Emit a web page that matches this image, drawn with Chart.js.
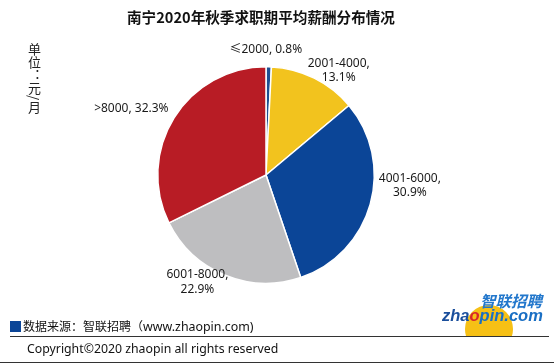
<!DOCTYPE html>
<html><head><meta charset="utf-8">
<script src="https://cdn.jsdelivr.net/npm/chart.js@4.4.1/dist/chart.umd.min.js"></script>
<style>
html,body{margin:0;padding:0;background:#fff;}
#wrap{position:relative;width:554px;height:364px;overflow:hidden;font-family:"Noto Sans CJK SC","Noto Sans",sans-serif;color:#111;}
#c{position:absolute;left:0;top:0;}
.abs{position:absolute;white-space:nowrap;}
#title{left:0;width:522px;top:7px;text-align:center;font-size:14.6px;font-weight:bold;color:#111;line-height:20px;}
#unit{left:27px;top:43px;writing-mode:vertical-rl;text-orientation:mixed;font-size:13px;line-height:15px;color:#222;}
#sq{left:10px;top:321px;width:11px;height:11px;background:#0B4597;}
#src{left:23px;top:317px;font-size:12px;line-height:17px;color:#111;}
#src .lat{font-family:"Noto Sans",sans-serif;font-size:12.4px;}
#hr1{left:10px;top:336px;width:539px;height:1px;background:#333;}
#copy{left:27px;top:340px;font-size:12.3px;line-height:18px;color:#111;font-family:"Noto Sans",sans-serif;}
#hr2{left:0;top:362px;width:554px;height:1px;background:#333;}
#logoBox{left:430px;top:285px;width:124px;height:51px;overflow:hidden;}
#logoC{position:absolute;left:35px;top:20px;width:48px;height:48px;border-radius:50%;background:#F6C015;}
#logo1{position:absolute;left:50px;top:6px;font-size:15.5px;font-weight:bold;font-style:italic;color:#2277CC;line-height:18px;}
#logo2{position:absolute;left:12px;top:20px;font-size:16.5px;font-weight:bold;font-style:italic;color:#1A6FC4;line-height:20px;font-family:"Liberation Sans",sans-serif;}
#logo2 .d{color:#1B4F9C;}
#logo2 .r{color:#D8262B;}
</style></head>
<body><div id="wrap">
<canvas id="c" width="554" height="364"></canvas>
<div class="abs" id="title">南宁2020年秋季求职期平均薪酬分布情况</div>
<div class="abs" id="unit">单位：元/月</div>
<div class="abs" id="logoBox"><div id="logoC"></div><div id="logo1">智联招聘</div><div id="logo2"><span class="d">zha</span><span class="r">o</span>pin.com</div></div>
<div class="abs" id="sq"></div>
<div class="abs" id="src">数据来源：智联招聘（<span class="lat">www.zhaopin.com)</span></div>
<div class="abs" id="hr1"></div>
<div class="abs" id="copy">Copyright©2020 zhaopin all rights reserved</div>
<div class="abs" id="hr2"></div>
</div>
<script>
const categories = ["≤2000", "2001-4000", "4001-6000", "6001-8000", ">8000"];
const shares = [0.8, 13.1, 30.9, 22.9, 32.3];
const sliceColors = ["#1D4F91", "#F2C31E", "#0B4597", "#BEBEC0", "#B81C25"];
// label line breaks (1 = name and value on one line, 2 = two lines)
const labelLines = [1, 2, 2, 2, 1];

const labelPlugin = {
  id: 'pieLabels',
  afterDatasetsDraw(chart, args, opts) {
    const ctx = chart.ctx;
    const meta = chart.getDatasetMeta(0);
    ctx.save();
    ctx.font = '12px "Noto Sans","Noto Sans CJK SC",sans-serif';
    ctx.fillStyle = '#1a1a1a';
    ctx.textAlign = 'center';
    ctx.textBaseline = 'middle';
    const lh = 14.5;
    meta.data.forEach((arc, i) => {
      const p = arc.getProps(['x','y','startAngle','endAngle','outerRadius'], true);
      const mid = (p.startAngle + p.endAngle) / 2;
      const cx = Math.cos(mid), sy = Math.sin(mid);
      const name = chart.data.labels[i];
      const val = chart.data.datasets[0].data[i].toFixed(1) + '%';
      const lines = labelLines[i] === 1 ? [name + ', ' + val] : [name + ',', val];
      const w = Math.max(...lines.map(l => ctx.measureText(l).width));
      const h = lines.length * lh;
      const r = p.outerRadius + opts.gap;
      const nudge = opts.nudges[i];
      const bx = p.x + r * cx + cx * w / 2 + nudge[0];
      const by = p.y + r * sy + sy * h / 2 + nudge[1];
      lines.forEach((l, k) => {
        ctx.fillText(l, bx, by - h / 2 + lh * (k + 0.5));
      });
    });
    ctx.restore();
  }
};

new Chart(document.getElementById('c'), {
  type: 'pie',
  data: {
    labels: categories,
    datasets: [{
      data: shares,
      backgroundColor: sliceColors,
      borderColor: '#ffffff',
      borderWidth: 1.5
    }]
  },
  options: {
    responsive: false,
    animation: false,
    layout: { padding: { left: 157, right: 179, top: 66, bottom: 80 } },
    plugins: {
      legend: { display: false },
      tooltip: { enabled: false },
      pieLabels: { gap: 6, nudges: [[-4,-4],[8,11],[4,-24],[-13,-12],[-6,-2]] }
    }
  },
  plugins: [labelPlugin]
});
</script>
</body></html>
